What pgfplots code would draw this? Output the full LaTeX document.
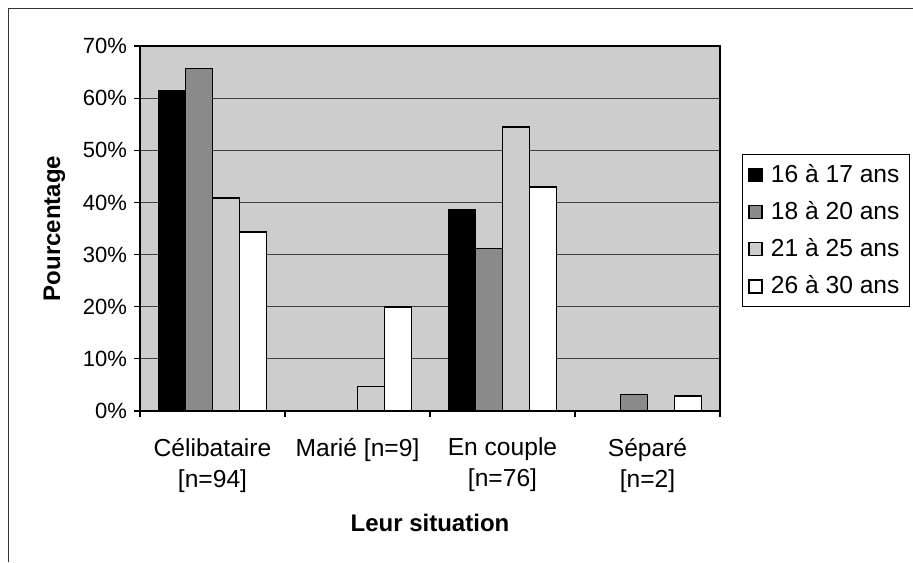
\documentclass[border=0pt]{standalone}
\usepackage{fontspec}
\setmainfont{Liberation Sans}
\usepackage{pgfplots}
\pgfplotsset{compat=1.18}
\definecolor{bggray}{HTML}{CDCDCD}
\definecolor{midgray}{HTML}{8A8A8A}
\begin{document}
\begin{tikzpicture}
\useasboundingbox (0,0) rectangle (456.5pt,281pt);
\draw[line width=0.5pt, black!80] (4pt,0) -- (4pt,276.5pt) -- (456.5pt,276.5pt);
\begin{axis}[
  at={(70pt,75.5pt)}, anchor=south west,
  scale only axis, width=290pt, height=182.5pt,
  xmin=-0.5, xmax=3.5, ymin=0, ymax=70,
  ybar=0pt, bar width=13.5pt,
  axis background/.style={fill=bggray},
  axis line style={black, line width=0.6pt},
  ytick={0,10,...,70},
  /pgf/number format/assume math mode=true,
  yticklabel={\pgfmathprintnumber{\tick}\%},
  yticklabel style={font=\fontsize{11}{13}\selectfont},
  ymajorgrids, grid style={black!75, line width=0.5pt},
  xtick={0,1,2,3},
  xticklabels={{Célibataire\\{}{[}n=94{]}},{Marié {[}n=9{]}},{En couple\\{}{[}n=76{]}},{Séparé\\{}{[}n=2{]}}},
  xticklabel style={align=center, font=\fontsize{12.3}{15.5}\selectfont, yshift=-7pt},
  major x tick style={draw=none},
  minor xtick={-0.5,0.5,1.5,2.5,3.5},
  tick align=outside, tick pos=left,
  major tick length=3pt, minor tick length=3pt,
  tick style={black, line width=0.6pt},
  xlabel={\bfseries Leur situation},
  ylabel={\bfseries Pourcentage},
  label style={font=\fontsize{12}{14}\selectfont},
  xlabel style={yshift=-4pt},
  ylabel style={yshift=2pt},
  legend style={at={(1.0379,0.7041)}, anchor=north west, draw=black, fill=white,
    font=\fontsize{12.3}{14}\selectfont, row sep=4pt, inner xsep=3pt, inner ysep=3pt,
    line width=0.5pt, /tikz/every odd column/.append style={column sep=2pt}},
  legend cell align=left,
  legend image code/.code={\draw[#1, line width=0.7pt] (0pt,-3.25pt) rectangle (6.5pt,3.25pt);},
  every axis plot/.append style={draw=black, line width=0.8pt},
]
\addplot[fill=black] coordinates {(0,61.5) (2,38.6)};
\addplot[fill=midgray] coordinates {(0,65.7) (2,31.2) (3,3.2)};
\addplot[fill=bggray] coordinates {(0,40.9) (1,4.7) (2,54.5)};
\addplot[fill=white] coordinates {(0,34.3) (1,20.0) (2,43.0) (3,2.9)};
\legend{16 à 17 ans,18 à 20 ans,21 à 25 ans,26 à 30 ans}
\end{axis}
\end{tikzpicture}
\end{document}
